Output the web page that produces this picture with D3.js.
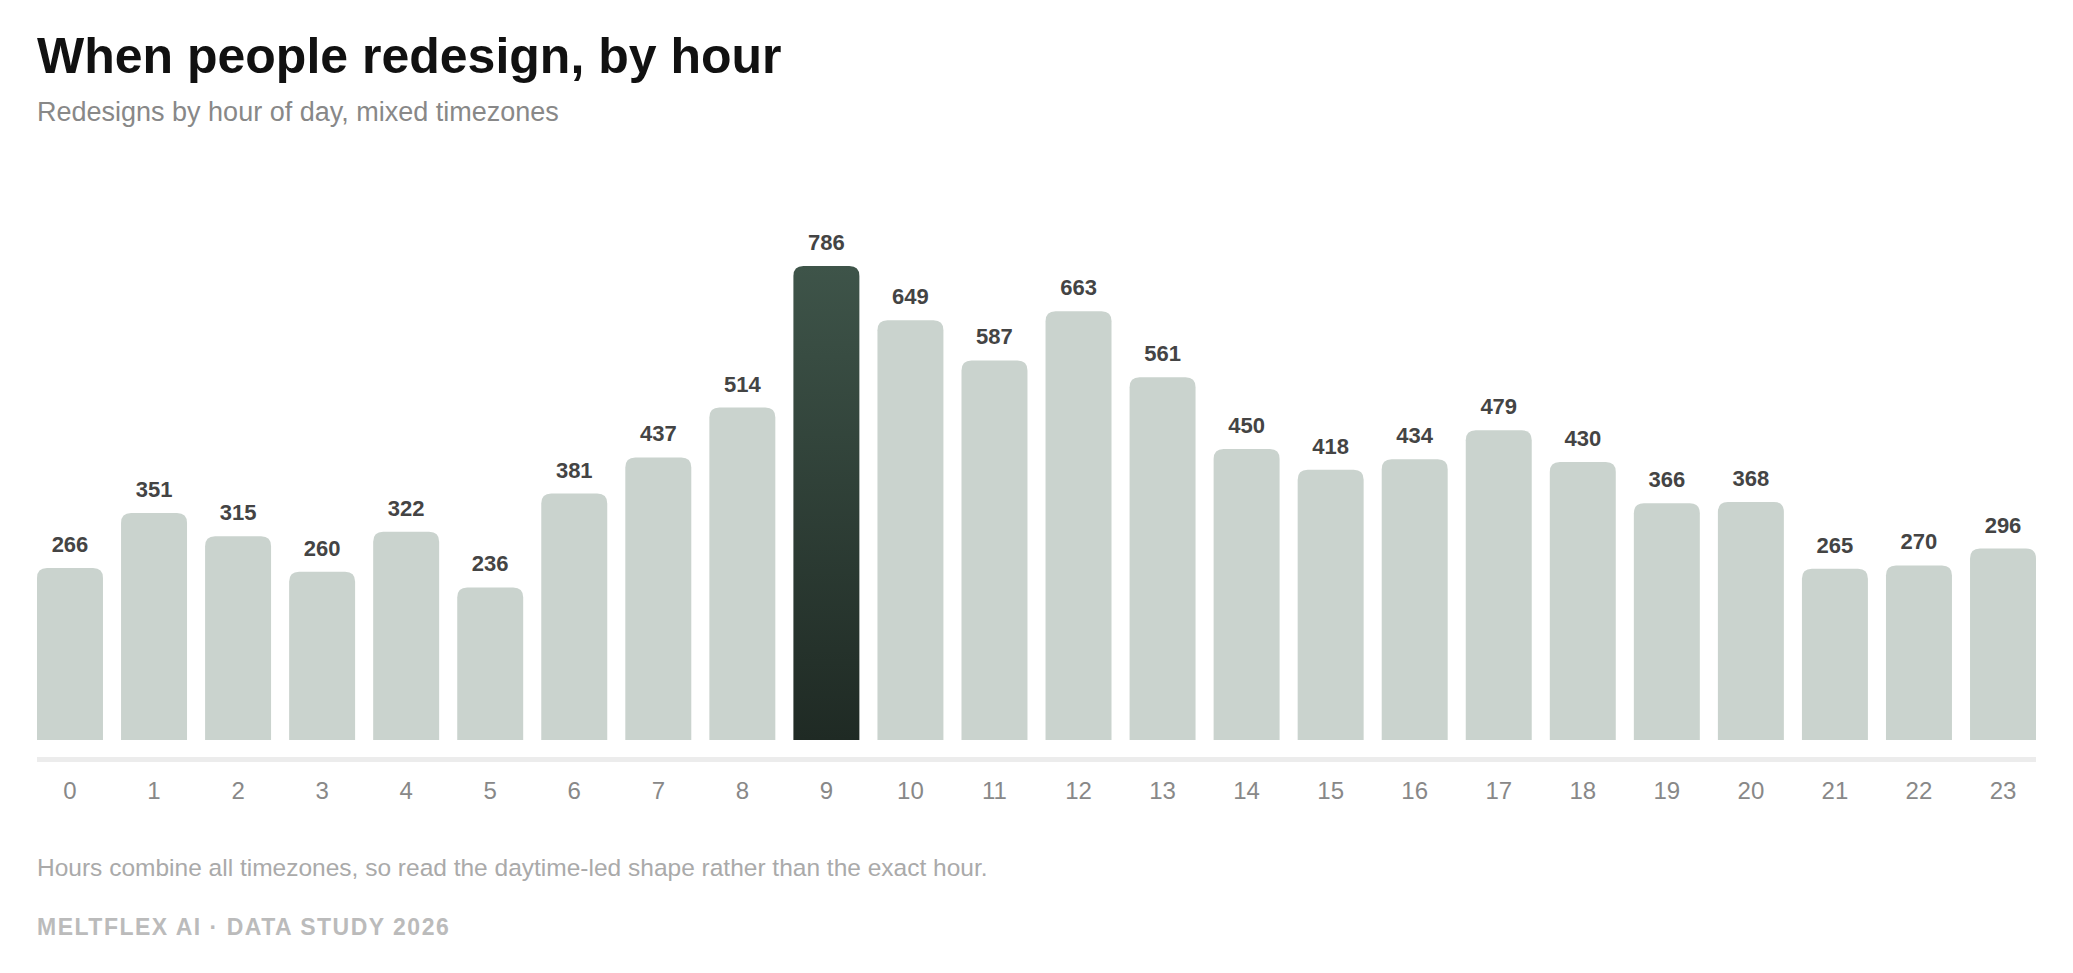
<!DOCTYPE html>
<html><head><meta charset="utf-8">
<script src="https://cdn.jsdelivr.net/npm/d3@7"></script>
<style>body{margin:0;background:#fff;font-family:"Liberation Sans",Arial,sans-serif}</style>
</head><body><svg id="c" width="2073" height="973"></svg>
<script>
const hours = ["0","1","2","3","4","5","6","7","8","9","10","11","12","13","14","15","16","17","18","19","20","21","22","23"];
const values = [266,351,315,260,322,236,381,437,514,786,649,587,663,561,450,418,434,479,430,366,368,265,270,296];
const highlight = "9";

const svg = d3.select("#c");
const defs = svg.append("defs");
const g = defs.append("linearGradient").attr("id","hl").attr("x1",0).attr("y1",0).attr("x2",0).attr("y2",1);
g.append("stop").attr("offset","0%").attr("stop-color","#3e5449");
g.append("stop").attr("offset","100%").attr("stop-color","#1f2a24");

svg.append("text").attr("x",37).attr("y",73).attr("font-size",50).attr("font-weight","bold").attr("fill","#111").text("When people redesign, by hour");
svg.append("text").attr("x",37).attr("y",121).attr("font-size",27).attr("fill","#888").text("Redesigns by hour of day, mixed timezones");

const x = d3.scaleBand().domain(hours).range([37,2036]).paddingInner(0.215).paddingOuter(0);
const y = d3.scaleLinear().domain([0,733]).range([740,266]).clamp(true);
const r = 10;
const data = hours.map((h,i)=>({h,v:values[i]}));

svg.selectAll("path.bar").data(data).enter().append("path")
 .attr("d",d=>{const x0=x(d.h),w=x.bandwidth(),y0=y(d.v),y1=y(0);
   return `M${x0},${y1}V${y0+r}Q${x0},${y0} ${x0+r},${y0}H${x0+w-r}Q${x0+w},${y0} ${x0+w},${y0+r}V${y1}Z`;})
 .attr("fill",d=>d.h===highlight?"url(#hl)":"#cad3ce");

svg.selectAll("text.val").data(data).enter().append("text")
 .attr("x",d=>x(d.h)+x.bandwidth()/2).attr("y",d=>y(d.v)-16)
 .attr("text-anchor","middle").attr("font-size",22).attr("font-weight","bold").attr("fill","#444").text(d=>d.v);

svg.append("rect").attr("x",37).attr("y",757).attr("width",1999).attr("height",5).attr("fill","#ececec");

const ax = svg.append("g").attr("transform","translate(0,762)").call(d3.axisBottom(x).tickSize(0).tickPadding(20));
ax.select(".domain").remove();
ax.selectAll("text").attr("font-size",24).attr("fill","#888").attr("font-family","Liberation Sans, Arial, sans-serif");

svg.append("text").attr("x",37).attr("y",876).attr("font-size",24.5).attr("fill","#aaa").text("Hours combine all timezones, so read the daytime-led shape rather than the exact hour.");
svg.append("text").attr("x",37).attr("y",935).attr("font-size",23).attr("font-weight","bold").attr("letter-spacing",1.5).attr("fill","#bbb").text("MELTFLEX AI · DATA STUDY 2026");
</script></body></html>
